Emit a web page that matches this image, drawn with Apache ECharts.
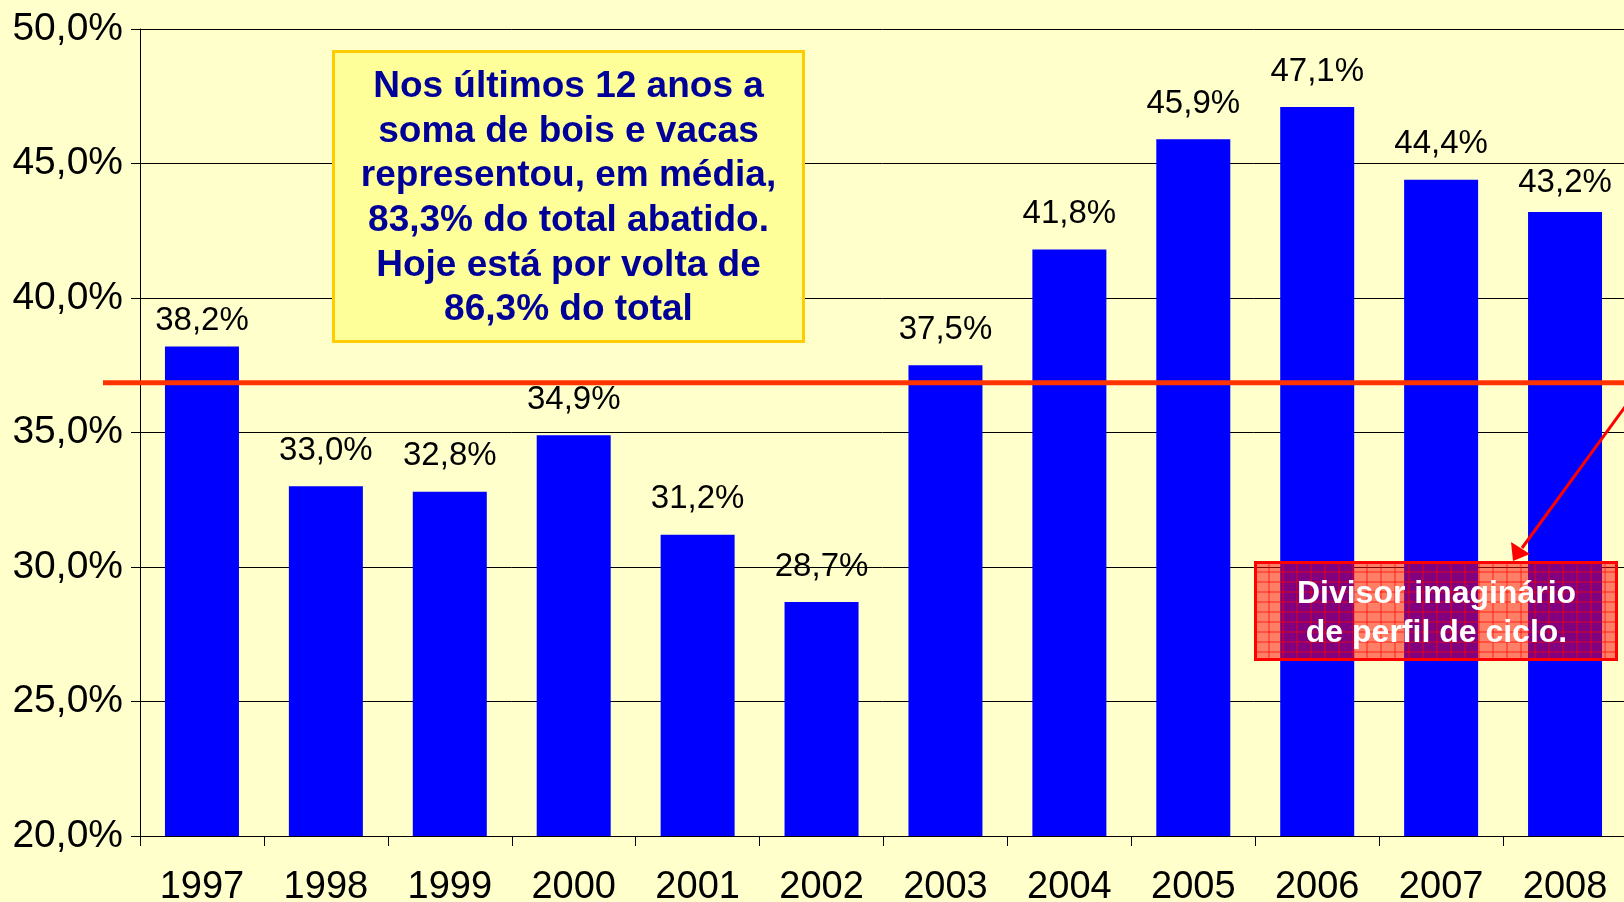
<!DOCTYPE html>
<html>
<head>
<meta charset="utf-8">
<title>Participação</title>
<script src="https://cdn.jsdelivr.net/npm/echarts@6/dist/echarts.min.js"></script>
<style>
  html, body { margin: 0; padding: 0; background: #ffffcc; }
  #main { width: 1624px; height: 902px; }
</style>
</head>
<body>
<div id="main"></div>
<script>
// dados
var anos = ['1997', '1998', '1999', '2000', '2001', '2002', '2003', '2004', '2005', '2006', '2007', '2008'];
var valores = [38.2, 33.0, 32.8, 34.9, 31.2, 28.7, 37.5, 41.8, 45.9, 47.1, 44.4, 43.2];
var divisor = 36.85;  // linha vermelha
var textoCaixa = ['Nos últimos 12 anos a', 'soma de bois e vacas', 'representou, em média,', '83,3% do total abatido.', 'Hoje está por volta de', '86,3% do total'];
var textoDivisor = ['Divisor imaginário', 'de perfil de ciclo.'];

function pct (v) {
  return v.toFixed(1).replace('.', ',') + '%';
}

var chart = echarts.init(document.getElementById('main'));

// padrão quadriculado da caixa vermelha
var pat = document.createElement('canvas');
pat.width = 14; pat.height = 10;
var ctx = pat.getContext('2d');
ctx.fillStyle = 'rgba(255,0,0,0.5)';
ctx.fillRect(0, 0, 14, 10);
ctx.fillStyle = 'rgba(255,0,0,0.75)';
ctx.fillRect(13, 0, 1, 10);
ctx.fillRect(0, 9, 14, 1);

// rótulos de 1997 e 2008 ficam mais perto da barra
var dadosBarra = valores.map(function (v, i) {
  if (i === 0) return { value: v, label: { distance: 9 } };
  if (i === valores.length - 1) return { value: v, label: { distance: 13 } };
  return v;
});

var option = {
  backgroundColor: '#ffffcc',
  animation: false,
  grid: { left: 140, right: -3, top: 29, bottom: 66, outerBoundsMode: 'none', containLabel: false },
  xAxis: {
    type: 'category',
    data: anos,
    axisLine: { lineStyle: { color: '#000', width: 1 } },
    axisTick: { show: true, length: 10, lineStyle: { color: '#000' } },
    axisLabel: { fontFamily: 'Liberation Sans', fontSize: 38, color: '#000', margin: 33 }
  },
  yAxis: {
    type: 'value',
    min: 20,
    max: 50,
    interval: 5,
    axisLine: { show: true, lineStyle: { color: '#000', width: 1 } },
    axisTick: { show: true, length: 9, lineStyle: { color: '#000' } },
    splitLine: { lineStyle: { color: '#000', width: 1 } },
    axisLabel: {
      fontFamily: 'Liberation Sans', fontSize: 39, color: '#000', margin: 17,
      formatter: function (v) { return pct(v); }
    }
  },
  series: [{
    type: 'bar',
    data: dadosBarra,
    barWidth: 74,
    itemStyle: { color: '#0000ff' },
    label: {
      show: true,
      position: 'top',
      distance: 19,
      fontFamily: 'Liberation Sans',
      fontSize: 33,
      color: '#000',
      formatter: function (p) { return pct(p.value); }
    }
  }]
};
chart.setOption(option);

var yDiv = chart.convertToPixel({ yAxisIndex: 0 }, divisor);

chart.setOption({
  graphic: [
    {
      type: 'line',
      z: 100,
      shape: { x1: 103, y1: yDiv, x2: 1624, y2: yDiv },
      style: { stroke: '#ff3300', lineWidth: 5 }
    },
    {
      type: 'group',
      left: 332,
      top: 50,
      children: [
        {
          type: 'rect',
          z: 100,
          shape: { x: 0, y: 0, width: 470, height: 290 },
          style: { fill: '#ffff99', stroke: '#ffcc00', lineWidth: 3 }
        },
        {
          type: 'text',
          z: 101,
          x: 235,
          y: 147,
          style: {
            text: textoCaixa.join('\n'),
            fontFamily: 'Liberation Sans',
            fontWeight: 'bold',
            fontSize: 37,
            lineHeight: 44.6,
            fill: '#000099',
            align: 'center',
            verticalAlign: 'middle'
          }
        }
      ]
    },
    {
      type: 'group',
      left: 1254,
      top: 561,
      children: [
        {
          type: 'rect',
          z: 100,
          shape: { x: 0, y: 0, width: 361, height: 97 },
          style: { fill: { image: pat, repeat: 'repeat' }, stroke: '#ff0000', lineWidth: 3 }
        },
        {
          type: 'text',
          z: 101,
          x: 181,
          y: 51,
          style: {
            text: textoDivisor.join('\n'),
            fontFamily: 'Liberation Sans',
            fontWeight: 'bold',
            fontSize: 32,
            lineHeight: 39,
            fill: '#ffffff',
            align: 'center',
            verticalAlign: 'middle'
          }
        }
      ]
    },
    // seta
    {
      type: 'line',
      z: 101,
      shape: { x1: 1630, y1: 400, x2: 1522, y2: 548 },
      style: { stroke: '#ff0000', lineWidth: 3 }
    },
    {
      type: 'polygon',
      z: 101,
      shape: { points: [[1513, 561], [1511, 542], [1530, 554]] },
      style: { fill: '#ff0000' }
    }
  ]
});
</script>
</body>
</html>
